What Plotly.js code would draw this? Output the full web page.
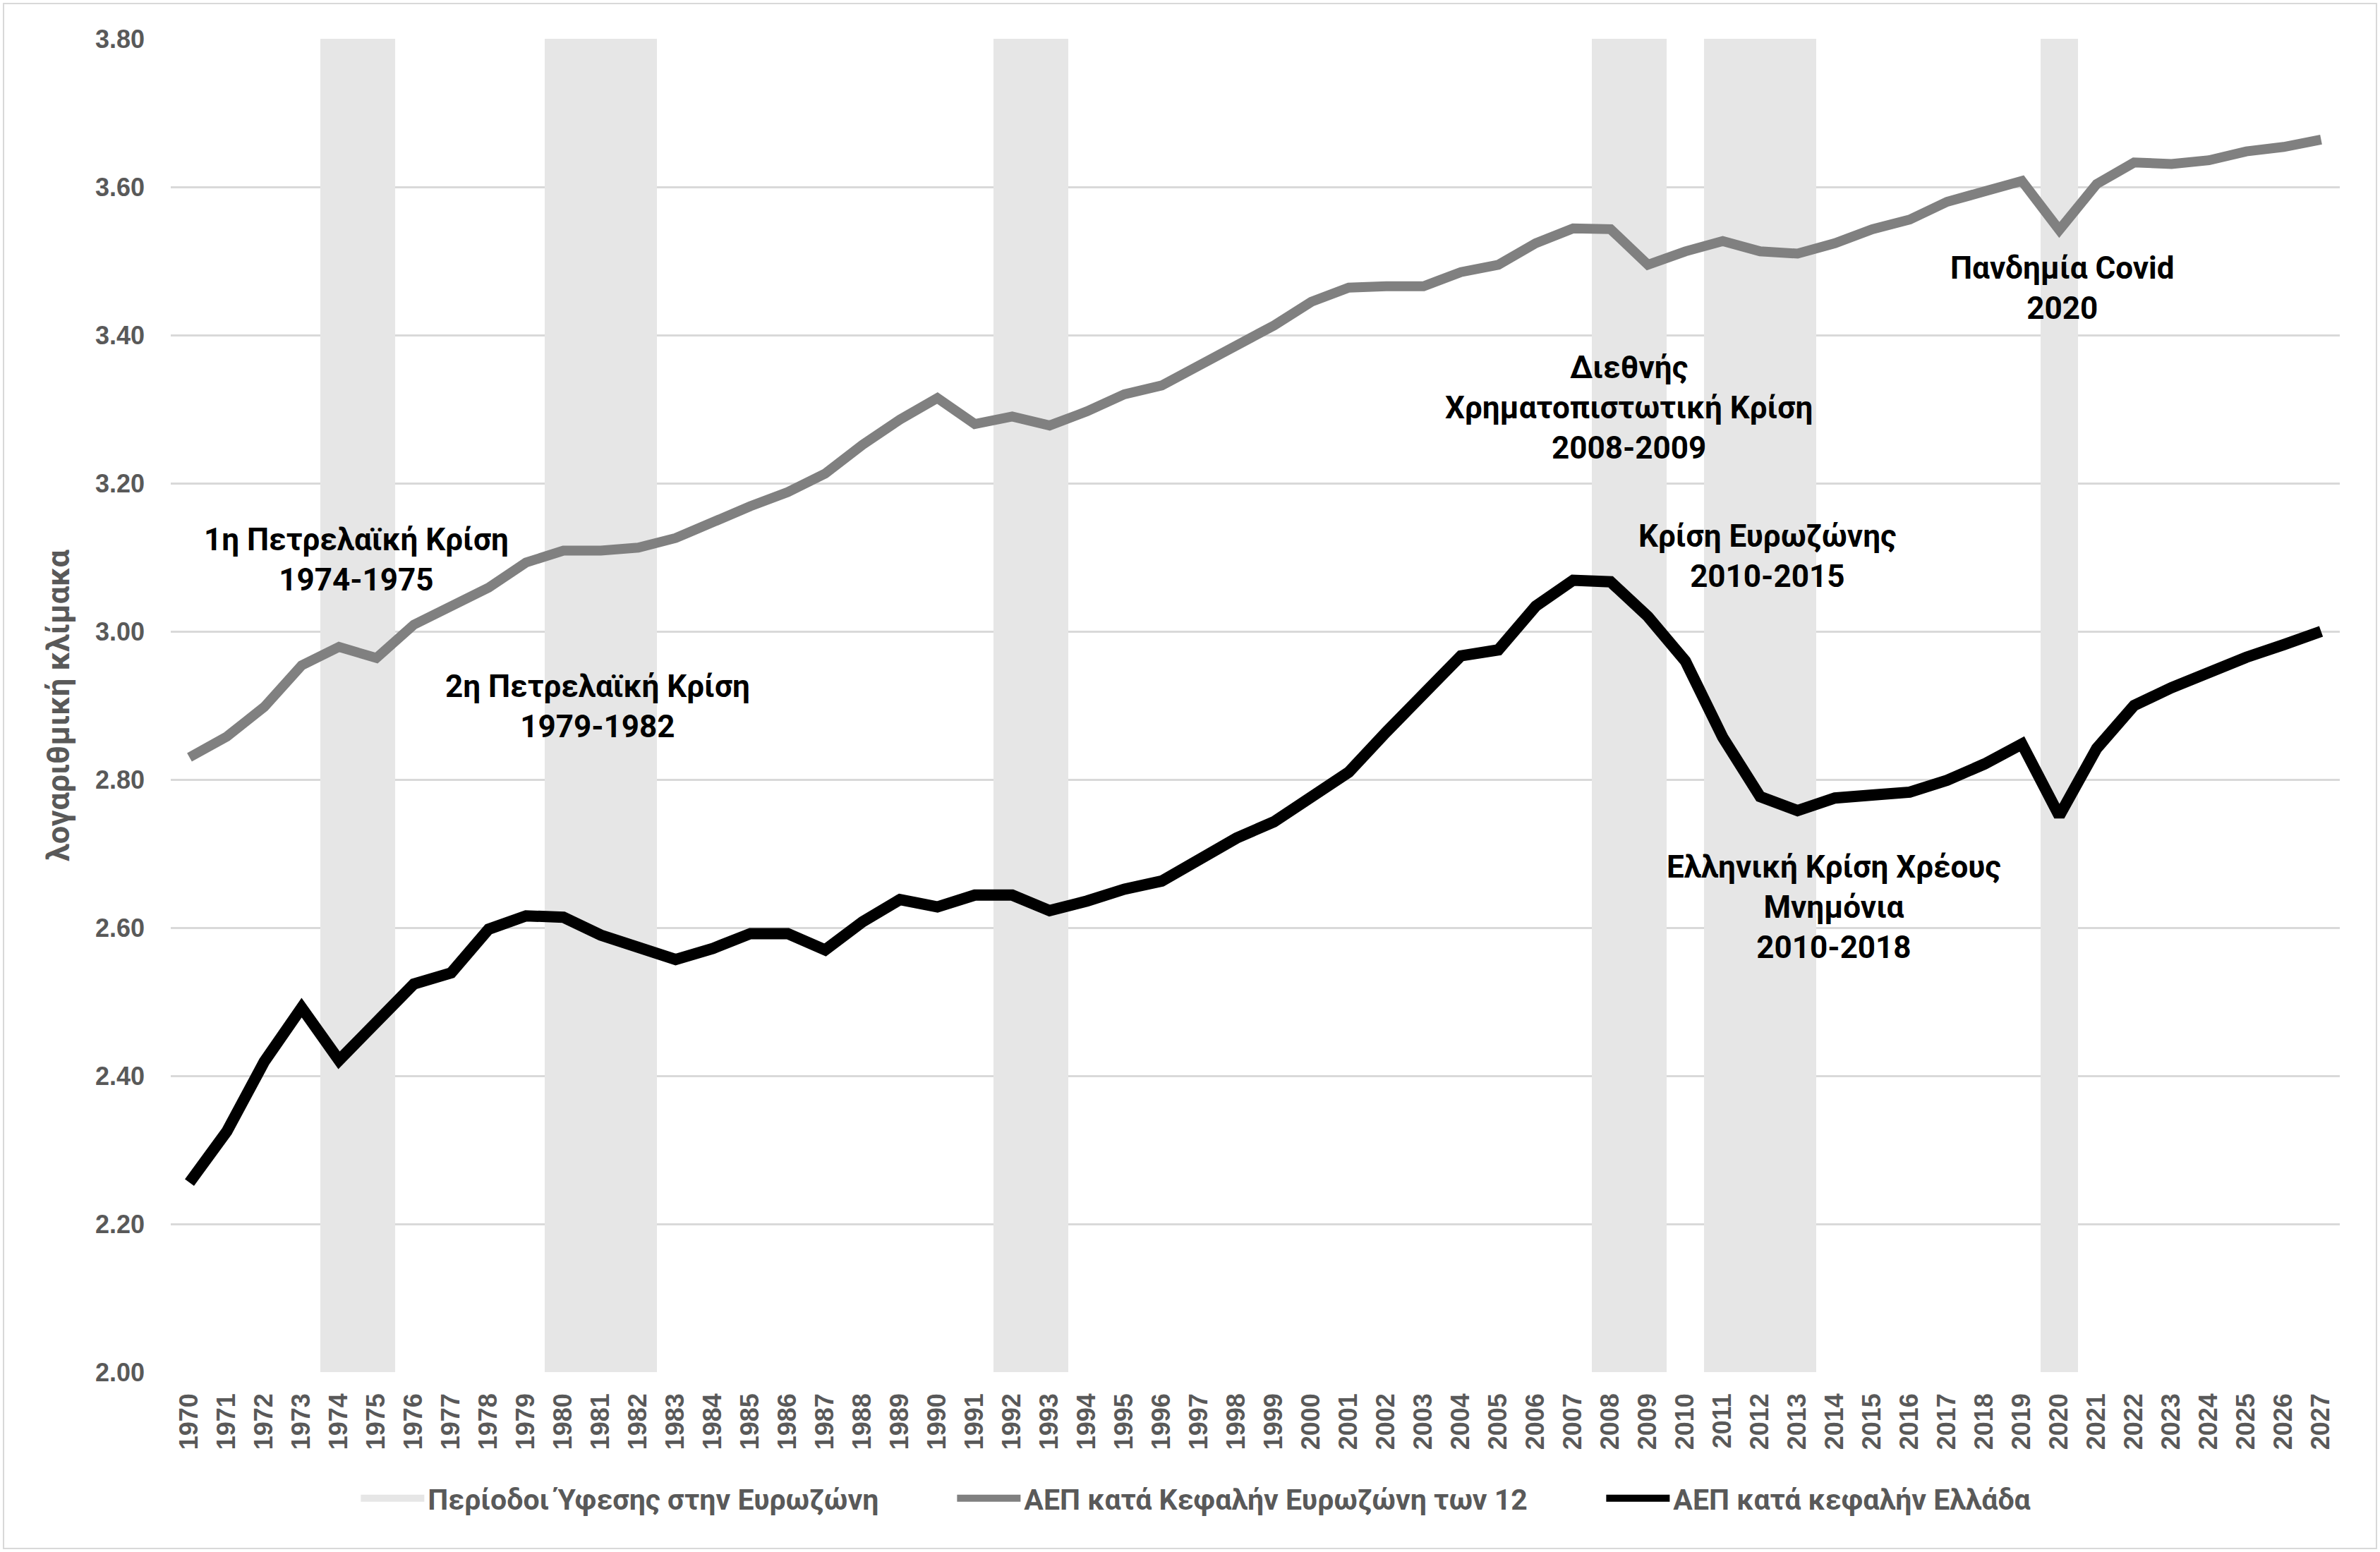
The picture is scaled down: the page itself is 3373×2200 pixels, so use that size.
<!DOCTYPE html>
<html>
<head>
<meta charset="utf-8">
<script src="https://cdn.plot.ly/plotly-3.0.1.min.js"></script>
<style>
html,body{margin:0;padding:0;background:#fff;}
#chart{width:3373px;height:2200px;}
#frame{position:absolute;left:4px;top:4px;width:3361px;height:2188px;border:2px solid #d9d9d9;pointer-events:none;}
</style>
</head>
<body>
<div id="chart"></div>
<div id="frame"></div>
<script>
// === Data === //
var years = [];
for(var yr = 1970; yr <= 2027; yr++){
    years.push(String(yr));
}

var recessionYears = ['1974','1975','1980','1981','1982','1992','1993','2008','2009','2011','2012','2013','2020'];
var recessionLevel = 3.8;

var euro12 = [
    2.830, 2.858, 2.898, 2.954, 2.979, 2.964, 3.009, 3.034, 3.059, 3.093,
    3.109, 3.109, 3.113, 3.126, 3.149, 3.169, 3.188, 3.213, 3.252, 3.286,
    3.315, 3.280, 3.290, 3.278, 3.297, 3.320, 3.332, 3.358, 3.386, 3.413,
    3.445, 3.464, 3.466, 3.466, 3.485, 3.495, 3.524, 3.544, 3.543, 3.495,
    3.513, 3.527, 3.513, 3.510, 3.524, 3.543, 3.556, 3.580, 3.594, 3.608,
    3.542, 3.604, 3.633, 3.631, 3.636, 3.648, 3.654, 3.664
];

var greece = [
    2.256, 2.325, 2.419, 2.492, 2.421, 2.473, 2.524, 2.539, 2.598, 2.616,
    2.614, 2.590, 2.573, 2.557, 2.572, 2.592, 2.592, 2.570, 2.608, 2.638,
    2.628, 2.644, 2.644, 2.623, 2.636, 2.652, 2.663, 2.694, 2.721, 2.743,
    2.775, 2.810, 2.864, 2.917, 2.967, 2.975, 3.034, 3.069, 3.067, 3.020,
    2.960, 2.857, 2.777, 2.758, 2.775, 2.779, 2.783, 2.799, 2.821, 2.848,
    2.751, 2.842, 2.900, 2.924, 2.946, 2.965, 2.982, 3.000
];

var seriesNames = ['Περίοδοι Ύφεσης στην Ευρωζώνη', 'ΑΕΠ κατά Κεφαλήν Ευρωζώνη των 12', 'ΑΕΠ κατά κεφαλήν Ελλάδα'];

var notes = [
    '1η Πετρελαϊκή Κρίση<br>1974-1975',
    '2η Πετρελαϊκή Κρίση<br>1979-1982',
    'Διεθνής<br>Χρηματοπιστωτική Κρίση<br>2008-2009',
    'Κρίση Ευρωζώνης<br>2010-2015',
    'Πανδημία Covid<br>2020',
    'Ελληνική Κρίση Χρέους<br>Μνημόνια<br>2010-2018'
];

// === Build traces === //
var recession = years.map(function(y){
    return recessionYears.indexOf(y) >= 0 ? recessionLevel : null;
});

var narrow = 'Roboto, sans-serif';
var gray = '#595959';
var bandColor = '#e6e6e6';

var traces = [
    // legend entry for the bands (drawn as a wide swatch)
    {
        x: [null], y: [null], type: 'scatter', mode: 'lines', name: '<b>' + seriesNames[0] + '</b>',
        line: {color: bandColor, width: 24}, hoverinfo: 'skip', legendwidth: 740
    },
    {
        x: years, y: recession, type: 'bar', name: seriesNames[0], showlegend: false,
        marker: {color: bandColor}, hoverinfo: 'skip'
    },
    {
        x: years, y: euro12, type: 'scatter', mode: 'lines', name: '<b>' + seriesNames[1] + '</b>',
        line: {color: '#808080', width: 14}, legendwidth: 815
    },
    {
        x: years, y: greece, type: 'scatter', mode: 'lines', name: '<b>' + seriesNames[2] + '</b>',
        line: {color: '#000000', width: 16}, legendwidth: 600
    }
];

// annotation spots (category index, value)
var noteX = [4.47, 10.92, 38.49, 42.2, 50.07, 43.98];
var noteY = [3.097, 2.899, 3.302, 3.101, 3.463, 2.628];

var annotations = notes.map(function(t, i){
    return {
        x: noteX[i], y: noteY[i], xref: 'x', yref: 'y',
        text: t, showarrow: false,
        font: {family: narrow, size: 44, color: '#000', weight: 700}
    };
});

var layout = {
    width: 3373, height: 2200,
    margin: {l: 242, r: 57, t: 55, b: 255},
    paper_bgcolor: '#fff', plot_bgcolor: '#fff',
    bargap: 0,
    showlegend: true,
    legend: {
        orientation: 'h', x: 0.086, xanchor: 'left', y: -0.0947, yanchor: 'middle',
        font: {family: narrow, size: 41, color: gray, weight: 700},
        itemwidth: 90, traceorder: 'normal'
    },
    xaxis: {
        type: 'category', tickangle: -90, showgrid: false, zeroline: false,
        tickfont: {family: 'Liberation Sans, Arial, sans-serif', size: 36, color: gray, weight: 700},
        ticks: '', ticklabelstandoff: 22, fixedrange: true
    },
    yaxis: {
        range: [2, 3.8], dtick: 0.2, tickformat: '.2f',
        gridcolor: '#d9d9d9', gridwidth: 3, zeroline: false,
        tickfont: {family: 'Liberation Sans, Arial, sans-serif', size: 36, color: gray, weight: 700},
        ticks: '', ticklabelstandoff: 36,
        title: {text: '<b>λογαριθμική κλίμακα</b>', standoff: 22,
            font: {family: narrow, size: 45, color: gray, weight: 700}}
    },
    annotations: annotations
};

Plotly.newPlot('chart', traces, layout, {displayModeBar: false, staticPlot: true});
</script>
</body>
</html>
